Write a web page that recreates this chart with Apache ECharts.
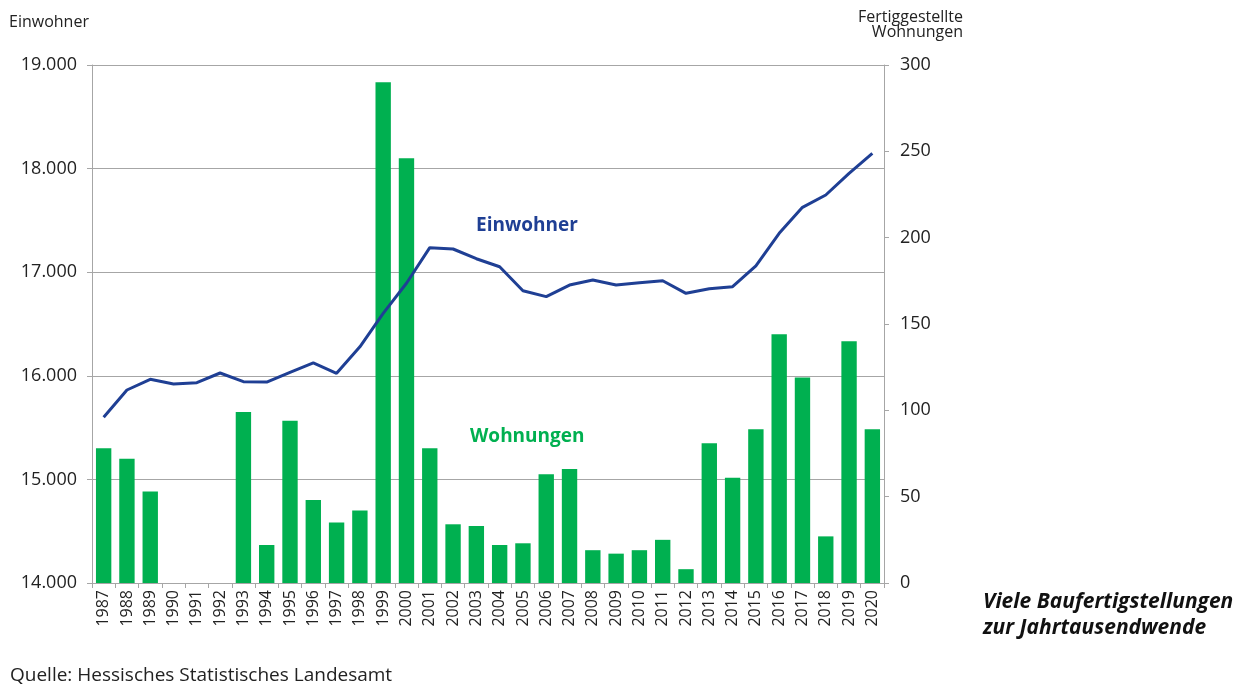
<!DOCTYPE html>
<html>
<head>
<meta charset="utf-8">
<title>Einwohner und fertiggestellte Wohnungen</title>
<script src="https://cdn.jsdelivr.net/npm/echarts@6/dist/echarts.min.js"></script>
<style>
  html, body { margin: 0; padding: 0; background: #fff; }
  #main { width: 1249px; height: 696px; }
</style>
</head>
<body>
<div id="main"></div>
<script>
var years = ["1987", "1988", "1989", "1990", "1991", "1992", "1993", "1994", "1995", "1996",
	"1997", "1998", "1999", "2000", "2001", "2002", "2003", "2004", "2005", "2006",
	"2007", "2008", "2009", "2010", "2011", "2012", "2013", "2014", "2015", "2016",
	"2017", "2018", "2019", "2020"];

// Einwohner (linke Achse)
var einwohner = [15600, 15863, 15966, 15921, 15934, 16027, 15943, 15940, 16034, 16124,
	16024, 16280, 16603, 16893, 17237, 17224, 17130, 17053, 16821, 16764,
	16876, 16925, 16876, 16899, 16918, 16796, 16841, 16860, 17060, 17375,
	17626, 17745, 17954, 18148];

// Fertiggestellte Wohnungen (rechte Achse)
var wohnungen = [78, 72, 53, 0, 0, 0, 99, 22, 94, 48,
	35, 42, 290, 246, 78, 34, 33, 22, 23, 63,
	66, 19, 17, 19, 25, 8, 81, 61, 89, 144,
	119, 27, 140, 89];

var leftTicks = { min: 14000, max: 19000, step: 1000 };
var rightTicks = { min: 0, max: 300, step: 50 };

var font = "'Open Sans', 'Noto Sans', sans-serif";
var textColor = "#222";
var gridColor = "#a6a6a6";
var barColor = "#00b050";
var lineColor = "#1f3f94";

function formatThousands(value) {
	var s = String(value);
	return s.replace(/\B(?=(\d{3})+(?!\d))/g, ".");
}

var chart = echarts.init(document.getElementById("main"));

var option = {
	backgroundColor: "#fff",
	animation: false,
	textStyle: { fontFamily: font },
	grid: { left: 92, right: 365, top: 65, bottom: 113, containLabel: false },
	xAxis: {
		type: "category",
		data: years,
		axisLine: { lineStyle: { color: gridColor, width: 1 } },
		axisTick: { show: true, alignWithLabel: false, length: 5, lineStyle: { color: gridColor } },
		axisLabel: { interval: 0, rotate: 90, margin: 7, fontSize: 16, color: textColor, fontFamily: font }
	},
	yAxis: [{
		type: "value",
		position: "left",
		min: leftTicks.min,
		max: leftTicks.max,
		interval: leftTicks.step,
		axisLine: { show: true, lineStyle: { color: gridColor } },
		axisTick: { show: true, length: 5, lineStyle: { color: gridColor } },
		axisLabel: { fontSize: 18, color: textColor, margin: 15, fontFamily: font, formatter: formatThousands },
		splitLine: { show: true, lineStyle: { color: gridColor, width: 1 } }
	}, {
		type: "value",
		position: "right",
		min: rightTicks.min,
		max: rightTicks.max,
		interval: rightTicks.step,
		axisLine: { show: true, lineStyle: { color: gridColor } },
		axisTick: { show: true, length: 5, lineStyle: { color: gridColor } },
		axisLabel: { fontSize: 18, color: textColor, margin: 16, fontFamily: font },
		splitLine: { show: false }
	}],
	series: [{
		name: "Wohnungen",
		type: "bar",
		yAxisIndex: 1,
		data: wohnungen,
		barCategoryGap: "34%",
		itemStyle: { color: barColor },
		z: 2
	}, {
		name: "Einwohner",
		type: "line",
		yAxisIndex: 0,
		data: einwohner,
		showSymbol: false,
		symbol: "none",
		lineStyle: { color: lineColor, width: 3 },
		z: 3
	}],
	graphic: [{
		type: "text", left: 9, top: 14,
		style: { text: "Einwohner", font: "16px " + font, fill: textColor }
	}, {
		type: "text", right: 286, top: 9,
		style: { text: "Fertiggestellte", font: "16px " + font, fill: textColor }
	}, {
		type: "text", right: 286, top: 24,
		style: { text: "Wohnungen", font: "16px " + font, fill: textColor }
	}, {
		type: "text", left: 476, top: 216,
		style: { text: "Einwohner", font: "bold 19px " + font, fill: lineColor }
	}, {
		type: "text", left: 470, top: 427,
		style: { text: "Wohnungen", font: "bold 19px " + font, fill: barColor }
	}, {
		type: "text", left: 983, top: 589,
		style: { text: "Viele Baufertigstellungen\nzur Jahrtausendwende", font: "italic bold 21px " + font, fill: "#111", lineHeight: 26 }
	}, {
		type: "text", left: 10, top: 666,
		style: { text: "Quelle: Hessisches Statistisches Landesamt", font: "19px " + font, fill: textColor }
	}]
};

chart.setOption(option);
</script>
</body>
</html>
